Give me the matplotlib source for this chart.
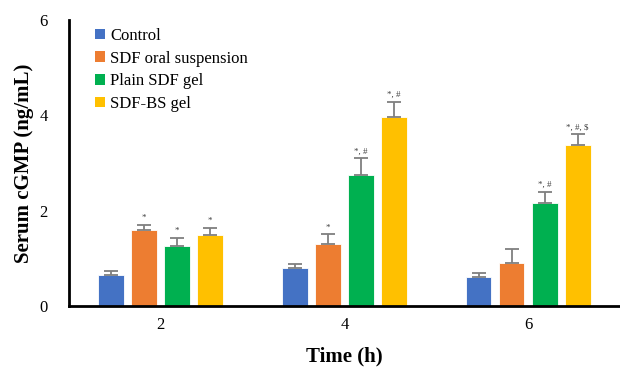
import numpy as np
import matplotlib
matplotlib.use("Agg")
import matplotlib.pyplot as plt
from matplotlib.patches import Patch

times = ["2", "4", "6"]
groups = ["Control", "SDF oral suspension", "Plain SDF gel", "SDF-BS gel"]
colors = ["#4472C4", "#ED7D31", "#00B050", "#FFC000"]

control = [0.65, 0.80, 0.60]
oral = [1.60, 1.30, 0.90]
plain = [1.25, 2.75, 2.15]
bs_gel = [1.48, 3.97, 3.38]

control_err = [0.08, 0.08, 0.08]
oral_err = [0.10, 0.20, 0.30]
plain_err = [0.17, 0.35, 0.25]
bs_err = [0.15, 0.32, 0.22]

signif = [
    ["", "", ""],
    ["*", "*", ""],
    ["*", "*, #", "*, #"],
    ["*", "*, #", "*, #, $"],
]

plt.rcParams.update({"font.family": ["Liberation Serif", "DejaVu Serif"]})

fig = plt.figure(figsize=(6.2, 3.73), dpi=100)
ax = fig.add_axes([0.111, 0.18, 0.889, 0.766])

x = np.arange(len(times))
width = 0.14
step = 0.18
series = [control, oral, plain, bs_gel]
errs = [control_err, oral_err, plain_err, bs_err]

for i, (vals, err, c) in enumerate(zip(series, errs, colors)):
    pos = x + (i - 1.5) * step
    ax.bar(pos, vals, width, color=c, edgecolor="white", linewidth=0.6, zorder=2)
    ax.errorbar(pos, vals, yerr=[np.zeros(len(err)), err], fmt="none",
                ecolor="#7f7f7f", elinewidth=1.3, capsize=5, capthick=1.3, zorder=3)
    for p, v, e, s in zip(pos, vals, err, signif[i]):
        if s:
            ax.text(p, v + e + 0.06, s, ha="center", va="bottom", fontsize=6.5, color="#404040")

ax.set_xlim(-0.5, 2.5)
ax.set_ylim(0, 6)
ax.set_yticks([0, 2, 4, 6])
ax.set_xticks(x)
ax.set_xticklabels(times)
ax.tick_params(axis="both", length=0, labelsize=12, pad=8)
ax.tick_params(axis="y", pad=15)
for s in ["top", "right"]:
    ax.spines[s].set_visible(False)
for s in ["left", "bottom"]:
    ax.spines[s].set_linewidth(2)
    ax.spines[s].set_color("black")

ax.set_ylabel("Serum cGMP (ng/mL)", fontsize=15, fontweight="bold", labelpad=4)
ax.set_xlabel("Time (h)", fontsize=15, fontweight="bold", labelpad=10)

handles = [Patch(facecolor=c, label=g) for c, g in zip(colors, groups)]
ax.legend(handles=handles, loc="upper left", bbox_to_anchor=(0.021, 1.025), frameon=False,
          fontsize=12, handlelength=0.6, handleheight=0.6, handletextpad=0.3, labelspacing=0.4)

fig.savefig("out.png", dpi=100)
